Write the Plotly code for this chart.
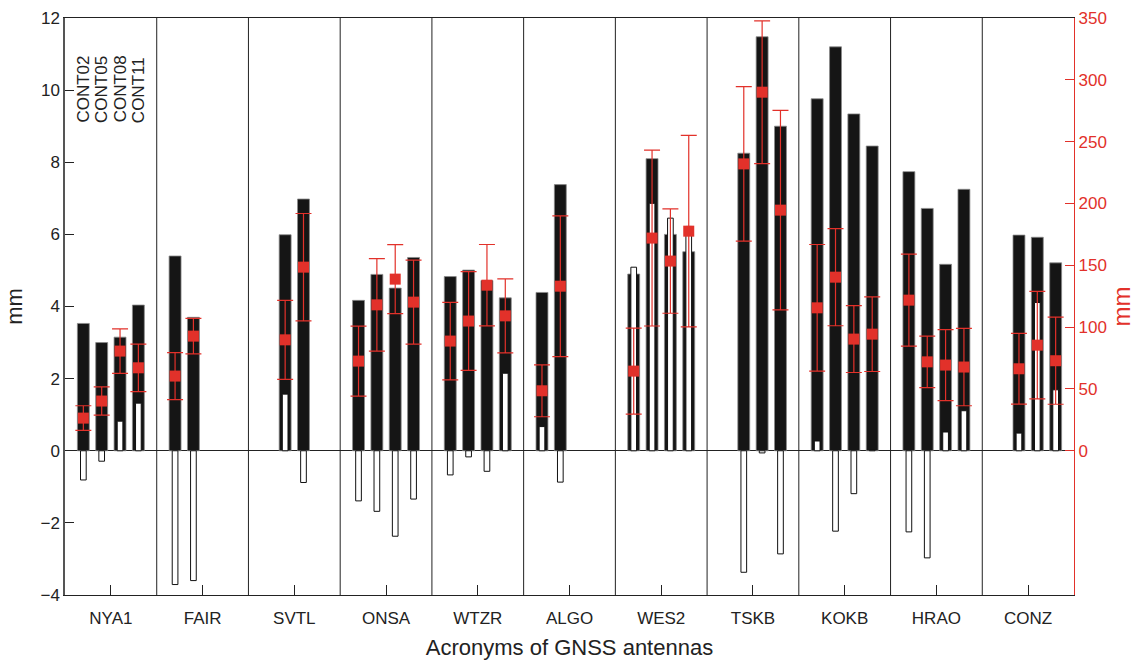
import plotly.graph_objects as go

stations = ["NYA1", "FAIR", "SVTL", "ONSA", "WTZR", "ALGO", "WES2", "TSKB", "KOKB", "HRAO", "CONZ"]
campaigns = ["CONT02", "CONT05", "CONT08", "CONT11"]

# black bars (mm, left axis)
black_cont02 = [3.53, 5.40, None, 4.17, 4.83, 4.39, 4.90, None, 9.76, 7.74, None]
black_cont05 = [3.00, 3.70, 5.99, 4.89, 5.01, 7.38, 8.10, 8.25, 11.20, 6.72, 5.98]
black_cont08 = [3.15, None, 6.98, 4.51, 4.72, None, 6.00, 11.48, 9.34, 5.17, 5.92]
black_cont11 = [4.04, None, None, 5.36, 4.24, None, 5.52, 9.00, 8.45, 7.25, 5.21]

# white bars (mm, left axis)
white_cont02 = [-0.81, -3.71, None, -1.39, -0.67, 0.67, 5.09, None, 0.27, -2.25, None]
white_cont05 = [-0.29, -3.60, 1.57, -1.68, -0.17, -0.87, 6.86, -3.37, -2.23, -2.97, 0.49]
white_cont08 = [0.82, None, -0.88, -2.37, -0.57, None, 6.45, -0.06, -1.19, 0.52, 4.11]
white_cont11 = [1.32, None, None, -1.34, 2.15, None, 6.22, -2.86, 0.02, 1.11, 1.69]

# red markers (mm, right axis) and error half-widths
red_cont02 = [26.4, 60.4, None, 72.5, 88.7, 48.5, 64.4, None, 115.6, 121.8, None]
err_cont02 = [10.0, 19.0, None, 28.3, 31.3, 21.0, 34.7, None, 51.2, 37.2, None]
red_cont05 = [40.2, 92.7, 89.7, 118.0, 104.9, 133.1, 172.0, 232.0, 140.4, 71.9, 66.3]
err_cont05 = [11.4, 14.4, 31.9, 37.4, 39.9, 56.9, 71.1, 62.5, 39.3, 20.8, 28.6]
red_cont08 = [80.6, None, 148.5, 138.8, 133.9, None, 153.4, 290.0, 90.3, 69.3, 85.4]
err_cont08 = [18.0, None, 43.4, 27.9, 32.9, None, 42.2, 57.7, 27.0, 28.7, 43.5]
red_cont11 = [67.1, None, None, 120.2, 109.1, None, 177.6, 194.6, 94.3, 67.7, 72.8]
err_cont11 = [19.2, None, None, 34.0, 29.9, None, 77.4, 80.7, 30.2, 31.3, 35.2]

black = [black_cont02, black_cont05, black_cont08, black_cont11]
white = [white_cont02, white_cont05, white_cont08, white_cont11]
red = [red_cont02, red_cont05, red_cont08, red_cont11]
err = [err_cont02, err_cont05, err_cont08, err_cont11]

RED = "#e2312a"
FONT = "Liberation Sans, Arial, sans-serif"
offsets = [-0.3, -0.1, 0.1, 0.3]
idx = list(range(len(stations)))

fig = go.Figure()

for j in range(4):
    fig.add_trace(go.Bar(
        x=[i + offsets[j] for i in idx], y=black[j], width=0.13,
        marker=dict(color="#151515", line=dict(color="#8a8a8a", width=0.8)),
        showlegend=False, name=campaigns[j]))

for j in range(4):
    fig.add_trace(go.Bar(
        x=[i + offsets[j] for i in idx], y=white[j], width=0.062,
        marker=dict(color="white", line=dict(color="#111111", width=1)),
        showlegend=False, name=campaigns[j]))

for j in range(4):
    fig.add_trace(go.Scatter(
        x=[i + offsets[j] for i in idx], y=red[j], yaxis="y2", mode="markers",
        marker=dict(symbol="square", size=11, color=RED),
        error_y=dict(type="data", array=err[j], visible=True, color=RED, thickness=1.2, width=8),
        showlegend=False, name=campaigns[j]))

shapes = [dict(type="line", xref="x", yref="paper", x0=i + 0.5, x1=i + 0.5, y0=0, y1=1,
               line=dict(color="#222222", width=1)) for i in idx[:-1]]

annotations = [dict(x=offsets[j], y=9.04, xref="x", yref="y", text=campaigns[j],
                    textangle=-90, showarrow=False, yanchor="bottom", xanchor="center",
                    font=dict(size=17, color="#222222", family=FONT)) for j in range(4)]

fig.update_layout(
    width=1135, height=660,
    margin=dict(l=65, r=61, t=18, b=65, autoexpand=False),
    plot_bgcolor="white", paper_bgcolor="white",
    barmode="overlay",
    font=dict(family=FONT, size=17, color="#222222"),
    shapes=shapes, annotations=annotations,
    xaxis=dict(range=[-0.5, 10.5], tickvals=idx, ticktext=stations,
               ticks="inside", ticklen=10, tickcolor="#222222",
               showline=True, mirror=True, linecolor="#222222", linewidth=1,
               showgrid=False, zeroline=False, automargin=False,
               tickfont=dict(size=17), ticklabelstandoff=8,
               title=dict(text="Acronyms of GNSS antennas", font=dict(size=22), standoff=12)),
    yaxis=dict(range=[-4, 12], dtick=2, tick0=0, ticks="inside", ticklen=9, tickcolor="#222222",
               showline=True, linecolor="#555555", linewidth=1.5,
               showgrid=False, zeroline=True, zerolinecolor="#222222", zerolinewidth=1,
               automargin=False, tickfont=dict(size=17),
               title=dict(text="mm", font=dict(size=22), standoff=12)),
    yaxis2=dict(overlaying="y", side="right", range=[-350 / 3, 350],
                tickvals=[0, 50, 100, 150, 200, 250, 300, 350],
                ticks="inside", ticklen=9, tickcolor=RED,
                showline=True, linecolor=RED, linewidth=1.2,
                showgrid=False, zeroline=False, automargin=False,
                tickfont=dict(size=17, color=RED),
                title=dict(text="mm", font=dict(size=24, color=RED), standoff=8)),
)

fig.write_html("out.html")
